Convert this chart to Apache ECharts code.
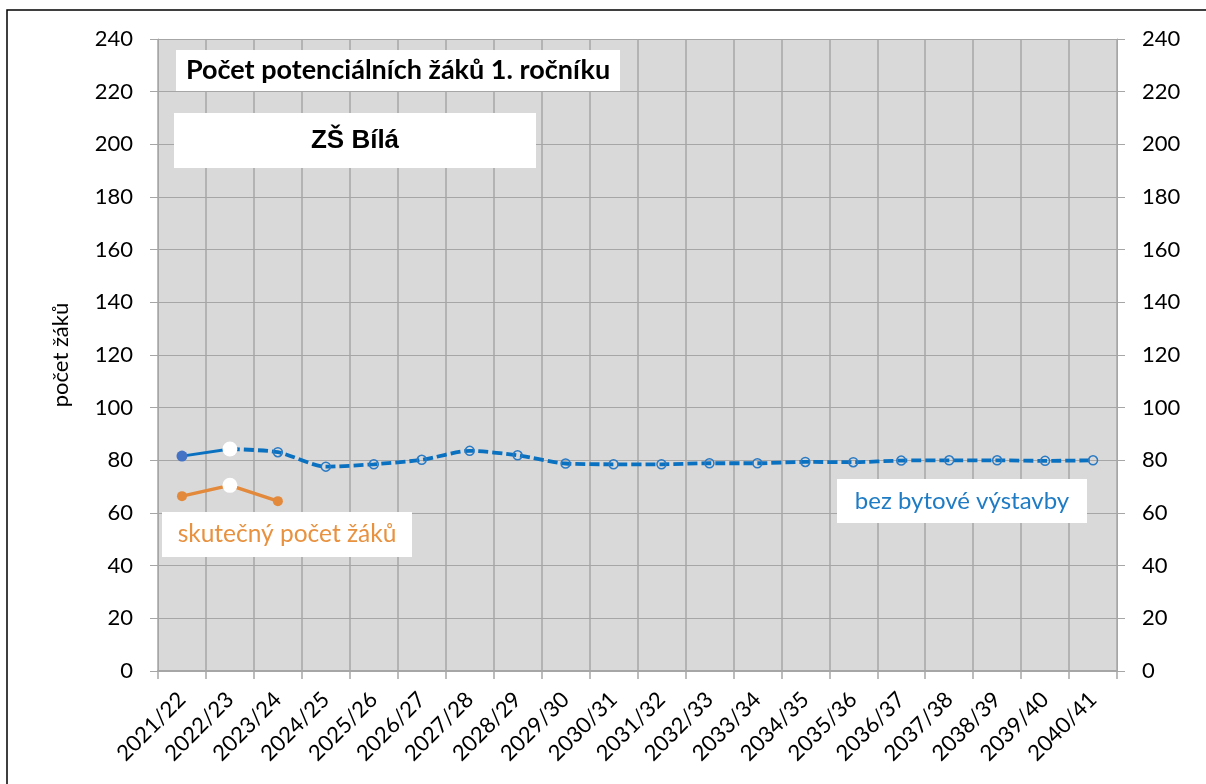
<!DOCTYPE html>
<html>
<head>
<meta charset="utf-8">
<script src="https://cdn.jsdelivr.net/npm/echarts@6/dist/echarts.min.js"></script>
<style>
html,body{margin:0;padding:0;background:#fff;}
#c{width:1206px;height:784px;}
</style>
</head>
<body>
<div id="c"></div>
<script>
// ---- data ----
const categories = ['2021/22','2022/23','2023/24','2024/25','2025/26','2026/27','2027/28','2028/29','2029/30','2030/31','2031/32','2032/33','2033/34','2034/35','2035/36','2036/37','2037/38','2038/39','2039/40','2040/41'];
const projection = [81.6, 84.3, 83.1, 77.6, 78.5, 80.2, 83.6, 81.9, 78.8, 78.5, 78.5, 78.9, 78.9, 79.4, 79.3, 79.9, 80.0, 80.0, 79.8, 80.0];
const actualStudents = [66.4, 70.5, 64.5];
const lastActualIndex = 1;      // last point of the solid (actual) part of projection
const highlightIndex = 1;       // point shown as a white marker
const yTicks = {min: 0, max: 240, step: 20};
const titleText = 'Počet potenciálních žáků 1. ročníku';
const schoolText = 'ZŠ Bílá';
const actualLabel = 'skutečný počet žáků';
const projectionLabel = 'bez bytové výstavby';
const yAxisName = 'počet žáků';

// ---- styles ----
const BLUE = '#0A70C0';
const BLUE_DOT = '#4472C4';
const ORANGE = '#E3893B';
const GRID = '#A6A6A6';
const FONT = 'Lato';

const whitePoint = (v) => ({value: v, symbol: 'circle', symbolSize: 15, itemStyle: {color: '#fff', borderWidth: 0}});

const solidData = projection.map((v, i) => {
  if (i > lastActualIndex) return null;
  if (i === highlightIndex) return {value: v, symbol: 'none'};
  return v;
});
const dashedData = projection.map((v, i) => {
  if (i < lastActualIndex) return null;
  if (i === highlightIndex) return whitePoint(v);
  return v;
});
const orangeData = categories.map((c, i) => {
  const v = i < actualStudents.length ? actualStudents[i] : null;
  if (v !== null && i === highlightIndex) return whitePoint(v);
  return v;
});

function box(x, y, w, h, text, font, color, weight, size) {
  return {
    type: 'group', z: 20,
    children: [
      {type: 'rect', shape: {x: x, y: y, width: w, height: h}, style: {fill: '#fff'}, z: 20},
      {type: 'text', x: x + w / 2, y: y + h / 2, z: 21,
       style: {text: text, fill: color, font: weight + ' ' + size + 'px "' + font + '"', textAlign: 'center', textVerticalAlign: 'middle'}}
    ]
  };
}

const chart = echarts.init(document.getElementById('c'), null, {renderer: 'canvas'});
const axisY = (pos) => ({
  type: 'value', position: pos,
  min: yTicks.min, max: yTicks.max, interval: yTicks.step,
  axisLine: {show: true, lineStyle: {color: GRID, width: 1}},
  axisTick: {show: true, length: 8, lineStyle: {color: GRID, width: 1}},
  axisLabel: {margin: 25, fontFamily: FONT, fontSize: 22, color: '#000'},
  splitLine: {show: pos === 'left', lineStyle: {color: GRID, width: 1}}
});
const yl = axisY('left');
Object.assign(yl, {name: yAxisName, nameLocation: 'middle', nameGap: 86, nameRotate: 90,
  nameTextStyle: {fontFamily: FONT, fontSize: 22, color: '#000'}});

chart.setOption({
  animation: false,
  backgroundColor: '#fff',
  grid: {left: 158, right: 89, top: 39, bottom: 113, show: true, backgroundColor: '#D9D9D9', borderWidth: 0},
  xAxis: {
    type: 'category', data: categories, boundaryGap: true,
    axisLine: {lineStyle: {color: GRID, width: 2}},
    axisTick: {show: true, length: 8, lineStyle: {color: GRID, width: 1.5}},
    splitLine: {show: true, lineStyle: {color: GRID, width: 1.5}},
    axisLabel: {rotate: 45, interval: 0, margin: 25, fontFamily: FONT, fontSize: 22, color: '#000'}
  },
  yAxis: [yl, axisY('right')],
  series: [
    {
      type: 'line', data: orangeData, z: 3,
      symbol: 'circle', symbolSize: 10, showSymbol: true,
      lineStyle: {color: ORANGE, width: 3.5},
      itemStyle: {color: ORANGE}
    },
    {
      type: 'line', data: solidData, z: 3,
      symbol: 'circle', symbolSize: 11,
      lineStyle: {color: BLUE, width: 3},
      itemStyle: {color: BLUE_DOT}
    },
    {
      type: 'line', data: dashedData, z: 4, smooth: 0.25,
      symbol: 'circle', symbolSize: 9,
      lineStyle: {color: BLUE, width: 3.8, type: [10, 4]},
      itemStyle: {color: 'rgba(0,0,0,0)', borderColor: '#2A7AC4', borderWidth: 1.5}
    }
  ],
  graphic: [
    box(176, 50, 444, 41, titleText, FONT, '#000', 'bold', 27),
    box(174, 113, 362, 55, schoolText, 'Liberation Sans', '#000', 'bold', 26),
    box(162, 512, 250, 45, actualLabel, FONT, '#E8913F', 'normal', 24.5),
    box(837, 479, 250, 44, projectionLabel, FONT, '#1F7CC4', 'normal', 24),
    {type: 'rect', z: 30, silent: true, shape: {x: 7, y: 10, width: 1260, height: 840},
     style: {fill: 'none', stroke: '#000', lineWidth: 1.5}}
  ]
});
</script>
</body>
</html>
